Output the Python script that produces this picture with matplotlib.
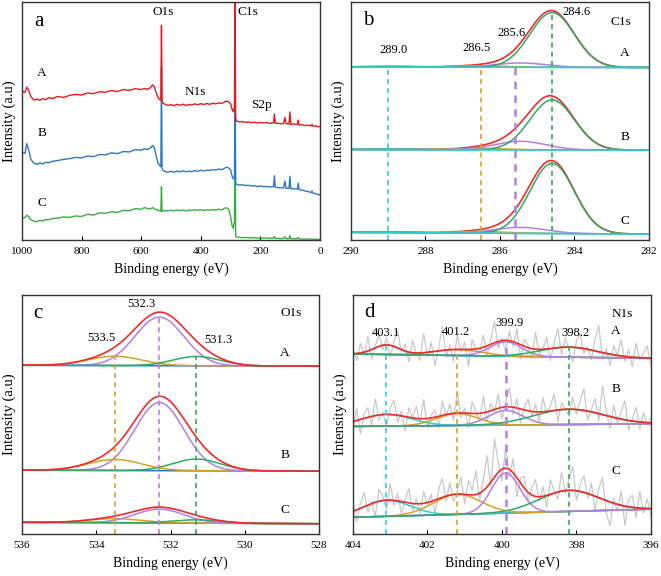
import numpy as np
import matplotlib
matplotlib.use("Agg")
import matplotlib.pyplot as plt

plt.rcParams['font.family'] = ['Liberation Serif', 'DejaVu Serif']

# ---------------- datos: espectro survey (panel a) ----------------
survey_ev = [1000, 990, 984, 978, 970, 960, 950, 940, 930, 920,
             910, 900, 880, 860, 840, 820, 800, 780, 760, 740,
             720, 700, 680, 660, 640, 620, 600, 590, 580, 570,
             562, 556, 550, 544, 538, 534, 532, 530, 527, 520,
             510, 500, 490, 480, 470, 460, 450, 440, 430, 420,
             410, 400, 390, 380, 370, 360, 350, 340, 330, 320,
             312, 306, 300, 295, 291, 287, 285, 283, 280, 270,
             260, 250, 240, 230, 220, 210, 200, 190, 180, 170,
             160, 156, 153, 150, 140, 130, 122, 118, 114, 108,
             104, 101, 98, 90, 80, 76, 73, 70, 60, 50,
             40, 30, 27, 24, 15, 8, 0]
survey_A = [62.7, 62.0, 64.2, 63.0, 60.2, 58.8, 59.2, 58.7, 59.4, 59.0,
            59.8, 59.4, 60.3, 59.9, 60.8, 61.2, 60.9, 61.8, 61.5, 62.3,
            62.1, 62.8, 62.4, 63.2, 62.9, 63.6, 63.2, 63.7, 63.3, 63.9,
            65.2, 64.4, 62.0, 60.0, 59.0, 58.8, 90.2, 58.4, 57.5, 57.0,
            56.5, 56.9, 56.4, 57.0, 56.6, 57.1, 56.5, 57.0, 56.7, 57.2,
            56.8, 57.3, 56.9, 57.4, 57.0, 57.5, 57.2, 57.6, 57.4, 58.0,
            58.4, 58.0, 57.2, 55.0, 53.9, 55.5, 100.0, 51.5, 49.9, 49.6,
            49.8, 49.4, 49.6, 49.3, 49.5, 49.2, 49.4, 49.2, 49.3, 49.0,
            49.2, 49.3, 53.0, 49.0, 49.1, 48.8, 49.0, 51.5, 48.8, 48.9,
            48.7, 53.8, 48.6, 48.8, 48.5, 48.6, 50.4, 48.3, 48.4, 48.1,
            48.2, 48.0, 48.6, 47.9, 47.9, 47.7, 47.6]
survey_B = [37.0, 36.4, 40.5, 38.0, 33.8, 32.3, 31.8, 32.4, 32.0, 32.7,
            32.4, 33.0, 33.4, 33.9, 34.2, 34.7, 34.5, 35.3, 35.0, 35.9,
            35.8, 36.6, 36.3, 37.2, 37.0, 38.0, 37.7, 38.4, 38.0, 38.6,
            39.7, 38.8, 35.5, 32.5, 31.2, 30.8, 72.7, 30.1, 29.3, 28.8,
            28.5, 28.9, 28.4, 29.0, 28.6, 29.1, 28.6, 29.0, 28.7, 29.2,
            28.9, 29.3, 29.0, 29.4, 29.2, 29.6, 29.4, 29.8, 29.6, 30.2,
            30.6, 30.2, 29.5, 26.8, 25.7, 26.8, 68.5, 24.0, 23.3, 23.1,
            23.2, 22.9, 23.0, 22.7, 22.8, 22.5, 22.7, 22.4, 22.5, 22.3,
            22.4, 22.3, 27.0, 22.2, 22.0, 21.9, 22.0, 24.8, 21.7, 21.8,
            21.6, 26.8, 21.5, 21.6, 21.3, 21.4, 23.9, 21.1, 21.0, 20.6,
            20.4, 19.9, 20.6, 19.7, 19.5, 19.2, 18.9]
survey_C = [9.1, 9.4, 10.4, 9.9, 8.5, 7.9, 7.7, 8.3, 8.0, 8.6,
            8.5, 9.0, 9.2, 9.7, 9.5, 10.1, 9.9, 10.8, 10.5, 11.4,
            11.2, 11.9, 11.6, 12.5, 12.3, 13.2, 12.9, 13.6, 13.3, 13.0,
            13.6, 13.1, 12.8, 12.5, 12.3, 12.2, 22.4, 12.0, 12.2, 12.4,
            12.2, 12.5, 12.3, 12.6, 12.3, 12.6, 12.2, 12.6, 12.4, 12.7,
            12.5, 12.8, 12.4, 12.7, 12.5, 12.8, 12.6, 12.9, 12.7, 13.4,
            13.5, 12.8, 9.8, 6.0, 4.9, 8.0, 60.1, 1.5, 1.2, 1.1,
            1.0, 1.1, 0.9, 1.0, 0.9, 0.8, 0.9, 0.8, 0.9, 0.7,
            0.8, 0.7, 1.5, 0.7, 0.7, 0.6, 0.7, 1.3, 0.6, 0.6,
            0.6, 1.8, 0.5, 0.6, 0.5, 0.5, 1.1, 0.5, 0.4, 0.4,
            0.4, 0.4, 0.5, 0.3, 0.3, 0.3, 0.2]

# ---------------- datos: ajustes (centro, altura, FWHM) ----------------
# orden de componentes: verde, morado, naranja, cian
c1s_centers = [284.6, 285.45, 286.5, 289.0]
c1s_marks = [284.6, 285.6, 286.5, 289.0]
c1s_fwhm = [1.4, 1.6, 1.6, 1.6]
c1s_heights = {'A': [23.0, 1.8, 0.6, 0.3],
               'B': [21.0, 3.6, 0.6, 0.3],
               'C': [29.5, 2.5, 0.7, 0.3]}
c1s_base = {'A': (72.7, 72.5), 'B': (38.0, 37.8), 'C': (3.2, 2.5)}

# orden: naranja, morado, verde
o1s_centers = [533.5, 532.3, 531.3]
o1s_fwhm = [1.7, 1.55, 1.5]
o1s_heights = {'A': [3.9, 20.3, 3.9],
               'B': [4.6, 28.5, 4.9],
               'C': [1.7, 5.8, 1.4]}
o1s_base = {'A': (70.6, 70.2), 'B': (26.7, 26.3), 'C': (4.9, 4.3)}

# orden: cian, naranja, morado, verde
n1s_centers = [403.1, 401.2, 399.9, 398.2]
n1s_fwhm = {'A': [0.8, 1.5, 1.0, 1.8],
            'B': [1.6, 1.3, 1.1, 2.2],
            'C': [1.5, 1.5, 0.9, 1.9]}
n1s_heights = {'A': [4.0, 2.5, 6.0, 4.2],
               'B': [4.9, 5.0, 6.1, 6.4],
               'C': [6.7, 8.4, 16.8, 8.8]}
n1s_base = {'A': (75.3, 73.5), 'B': (45.0, 46.1), 'C': (7.0, 10.4)}
# residuos de los datos crudos N1s (cada 0.1 eV de 404 a 396)
n1s_resid = {
    'A': [2, -3, 4, -1, 6, -4, 1, 5, -2, 3, -5, 2, 7, -1, 3, -4, 5, 0, -3, 8,
          -2, 4, -6, 1, 10, -3, 2, -5, 6, -1, 3, -7, 4, 0, -2, 5, -4, 2, 9, -3,
          1, -5, 4, -2, 6, -6, 3, 1, -4, 7, -2, 0, 5, -5, 2, 8, -3, 4, -1, -6,
          3, 6, -2, 1, -4, 5, 11, -3, 2, -5, 4, 0, 7, -2, 3, -4, 6, -1, 2, 5, -3],
    'B': [-3, 5, -6, 2, 4, -4, 7, -2, 1, -5, 3, 6, -3, 2, -6, 4, 0, 5, -2, 8,
          -4, 1, 3, -5, 6, -1, 4, -3, 9, -2, 2, -6, 5, 1, -3, 7, -4, 3, -1, 6,
          -5, 2, 8, -3, 4, -6, 1, 5, -2, 3, -4, 6, -1, 2, 7, -5, 3, 0, -3, 5,
          -2, 4, 9, -4, 1, 6, -3, 12, 2, -5, 5, -2, 3, 8, -4, 1, 6, -3, 4, -1, 2],
    'C': [4, -5, 2, 6, -3, 1, -6, 5, 2, -4, 7, -2, 3, -5, 1, 6, -3, 2, -4, 5,
          -1, 3, -6, 4, 8, -2, 5, -3, 1, 7, -4, 6, 2, 10, -3, 5, 13, -2, 16, 4,
          -5, 9, -3, 6, -8, 2, 5, -4, 3, 7, -2, 4, -5, 6, 1, -3, 8, -1, 5, 10,
          -4, 3, 7, -2, 5, -6, 4, 9, -5, -10, 2, -3, 6, -8, 3, 5, -4, 7, -2, 4, -3],
}

ROJO = '#ee2b2b'
VERDE = '#33a862'
MORADO = '#b27fe4'
NARANJA = '#d9a028'
CIAN = '#2ccfd2'
AZUL = '#2f78c2'


def gauss(x, c, h, w):
    return h * np.exp(-4 * np.log(2) * (x - c) ** 2 / w ** 2)


def base_line(x, lims, b):
    return b[0] + (x - lims[0]) * (b[1] - b[0]) / (lims[1] - lims[0])


def preparar(ax, lims, ticks):
    ax.set_xlim(*lims)
    ax.set_ylim(0, 100)
    ax.set_yticks([])
    ax.set_xticks(ticks)
    ax.tick_params(axis='x', direction='in', length=3, labelsize=8, pad=5)
    ax.set_xlabel('Binding energy (eV)', fontsize=10, labelpad=5)
    ax.set_ylabel('Intensity (a.u)', fontsize=10.5, labelpad=4)
    for s in ax.spines.values():
        s.set_linewidth(1.0)
        s.set_color('#333333')


def dashed(ax, x, top, color, lw=1.2):
    ax.vlines(x, 0, top, colors=color, linestyles=(0, (3, 2.5)), lw=lw)


fig = plt.figure(figsize=(6.61, 5.76), dpi=100)
ax_a = fig.add_axes([0.0333, 0.5833, 0.4508, 0.4132])
ax_b = fig.add_axes([0.5310, 0.5833, 0.4508, 0.4132])
ax_c = fig.add_axes([0.0333, 0.0729, 0.4493, 0.4150])
ax_d = fig.add_axes([0.5340, 0.0729, 0.4508, 0.4150])

# ---------- a: survey ----------
preparar(ax_a, (1000, 0), [1000, 800, 600, 400, 200, 0])
ax_a.plot(survey_ev, survey_C, color='#3aab45', lw=1)
ax_a.plot(survey_ev, survey_B, color=AZUL, lw=1)
ax_a.plot(survey_ev, survey_A, color='#e8191d', lw=1)
ax_a.text(943, 92, 'a', fontsize=15, ha='center', va='center')
ax_a.text(527, 95.8, 'O1s', fontsize=9.5, ha='center', va='center')
ax_a.text(242, 95.8, 'C1s', fontsize=9.5, ha='center', va='center')
ax_a.text(419, 62.2, 'N1s', fontsize=9.5, ha='center', va='center')
ax_a.text(195, 56.7, 'S2p', fontsize=9.5, ha='center', va='center')
for lab, yy in zip(['A', 'B', 'C'], [70.2, 45.0, 15.5]):
    ax_a.text(933, yy, lab, fontsize=9.5, ha='center', va='center')

# ---------- b: C1s ----------
lims_b = (290, 282)
preparar(ax_b, lims_b, [290, 288, 286, 284, 282])
xb = np.linspace(290, 282, 600)
col_b = [VERDE, MORADO, NARANJA, CIAN]
for k in ['A', 'B', 'C']:
    base = base_line(xb, lims_b, c1s_base[k])
    comps = [gauss(xb, c, h, w) for c, h, w in zip(c1s_centers, c1s_heights[k], c1s_fwhm)]
    ax_b.plot(xb, base + sum(comps), color=ROJO, lw=1.2)
    for comp, col in zip(comps[::-1], col_b[::-1]):
        ax_b.plot(xb, base + comp, color=col, lw=1.1)
    ax_b.plot(xb, base, color=CIAN, lw=1.2)
for xm, h, col in zip(c1s_marks, c1s_heights['A'], col_b):
    dashed(ax_b, xm, c1s_base['A'][0] + h, col, lw=1.8 if col == MORADO else 1.2)
ax_b.text(289.53, 92.4, 'b', fontsize=15, ha='center', va='center')
ax_b.text(288.86, 79.9, '289.0', fontsize=9, ha='center', va='center')
ax_b.text(286.63, 80.6, '286.5', fontsize=9, ha='center', va='center')
ax_b.text(285.69, 86.9, '285.6', fontsize=9, ha='center', va='center')
ax_b.text(283.94, 95.9, '284.6', fontsize=9, ha='center', va='center')
ax_b.text(282.75, 91.7, 'C1s', fontsize=9.5, ha='center', va='center')
for lab, yy in zip(['A', 'B', 'C'], [78.6, 43.3, 8.0]):
    ax_b.text(282.65, yy, lab, fontsize=9.5, ha='center', va='center')

# ---------- c: O1s ----------
lims_c = (536, 528)
preparar(ax_c, lims_c, [536, 534, 532, 530, 528])
xc = np.linspace(536, 528, 600)
col_c = [NARANJA, MORADO, VERDE]
for k in ['A', 'B', 'C']:
    base = base_line(xc, lims_c, o1s_base[k])
    comps = [gauss(xc, c, h, w) for c, h, w in zip(o1s_centers, o1s_heights[k], o1s_fwhm)]
    ax_c.plot(xc, base, color=AZUL, lw=1.2)
    for comp, col in zip(comps, col_c):
        ax_c.plot(xc, base + comp, color=col, lw=1.1)
    ax_c.plot(xc, base + sum(comps), color=ROJO, lw=1.2)
for c, h, col in zip(o1s_centers, o1s_heights['A'], col_c):
    dashed(ax_c, c, o1s_base['A'][0] + h, col)
ax_c.text(535.58, 92.1, 'c', fontsize=15, ha='center', va='center')
ax_c.text(532.79, 96.2, '532.3', fontsize=9, ha='center', va='center')
ax_c.text(533.87, 81.9, '533.5', fontsize=9, ha='center', va='center')
ax_c.text(530.72, 81.2, '531.3', fontsize=9, ha='center', va='center')
ax_c.text(528.75, 92.3, 'O1s', fontsize=9.5, ha='center', va='center')
for lab, yy in zip(['A', 'B', 'C'], [75.9, 32.9, 10.2]):
    ax_c.text(528.92, yy, lab, fontsize=9.5, ha='center', va='center')

# ---------- d: N1s ----------
lims_d = (404, 396)
preparar(ax_d, lims_d, [404, 402, 400, 398, 396])
xd = np.linspace(404, 396, 600)
x_raw = np.linspace(404, 396, 81)
col_d = [CIAN, NARANJA, MORADO, VERDE]
for k in ['A', 'B', 'C']:
    fw = n1s_fwhm[k]
    raw_fit = base_line(x_raw, lims_d, n1s_base[k]) + sum(
        gauss(x_raw, c, h, w) for c, h, w in zip(n1s_centers, n1s_heights[k], fw))
    ax_d.plot(x_raw, raw_fit + np.array(n1s_resid[k]), color='#c9c9c9', lw=0.9)
for k in ['A', 'B', 'C']:
    fw = n1s_fwhm[k]
    base = base_line(xd, lims_d, n1s_base[k])
    comps = [gauss(xd, c, h, w) for c, h, w in zip(n1s_centers, n1s_heights[k], fw)]
    ax_d.plot(xd, base, color=AZUL, lw=1.2)
    for comp, col in zip(comps, col_d):
        ax_d.plot(xd, base + comp, color=col, lw=1.1)
    ax_d.plot(xd, base + sum(comps), color=ROJO, lw=1.2)
for c, h, col in zip(n1s_centers, n1s_heights['A'], col_d):
    top = base_line(c, lims_d, n1s_base['A']) + h
    dashed(ax_d, c, top, col, lw=1.8 if col == MORADO else 1.2)
ax_d.text(403.56, 92.6, 'd', fontsize=15, ha='center', va='center')
ax_d.text(403.13, 84.0, '403.1', fontsize=9, ha='center', va='center')
ax_d.text(401.23, 84.3, '401.2', fontsize=9, ha='center', va='center')
ax_d.text(399.80, 88.4, '399.9', fontsize=9, ha='center', va='center')
ax_d.text(398.03, 84.0, '398.2', fontsize=9, ha='center', va='center')
ax_d.text(396.76, 92.1, 'N1s', fontsize=9.5, ha='center', va='center')
for lab, yy in zip(['A', 'B', 'C'], [85.1, 60.7, 26.2]):
    ax_d.text(396.95, yy, lab, fontsize=9.5, ha='center', va='center')

fig.savefig('out.png', dpi=100)
